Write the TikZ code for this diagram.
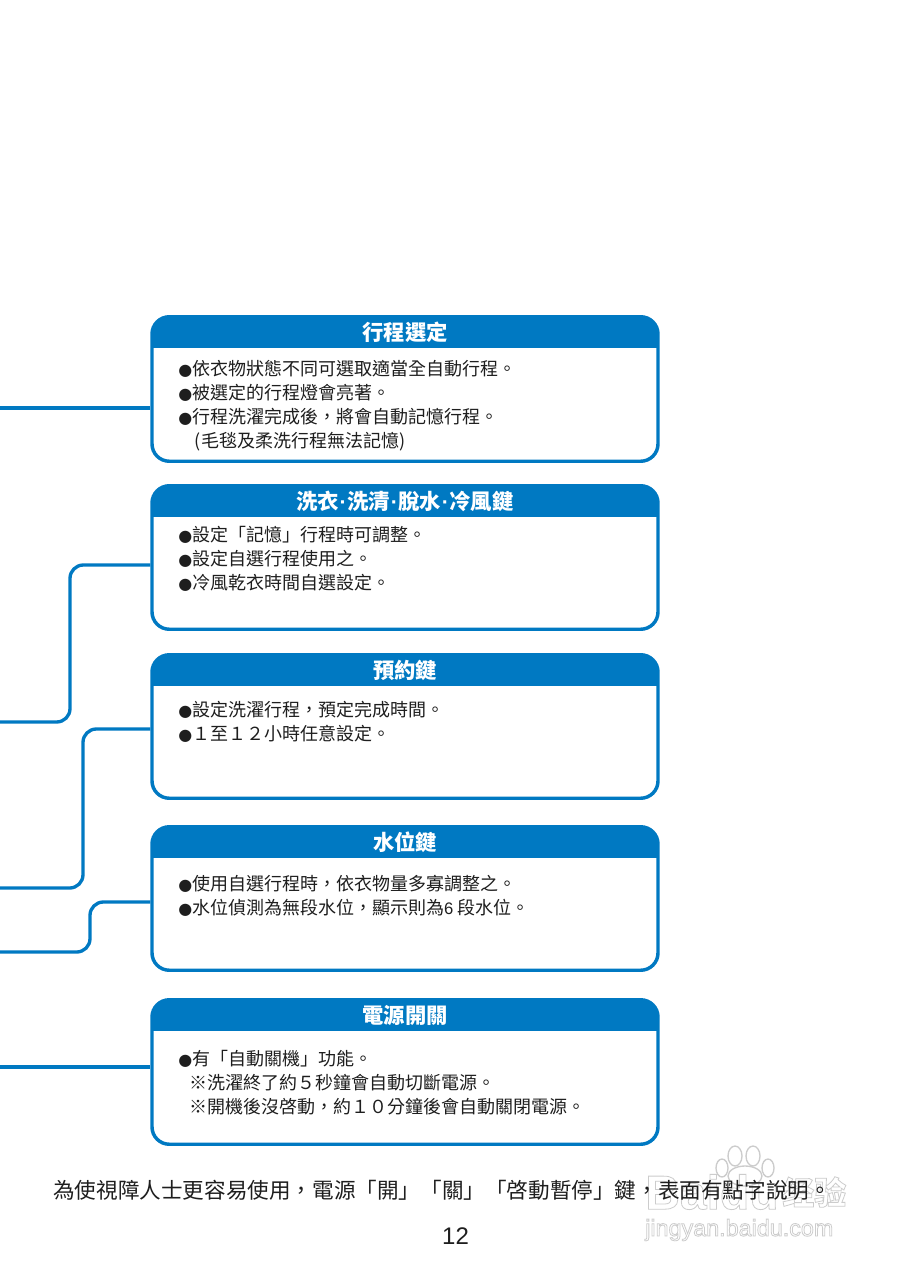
\documentclass[tikz,border=0pt]{standalone}
\usepackage{fontspec}
\setmainfont{Liberation Sans}
\newfontfamily\cjk{Noto Sans CJK TC}
\newfontfamily\cjksc{Noto Sans CJK SC}
\newfontfamily\dejavu{DejaVu Sans}
\definecolor{panelblue}{HTML}{0079C2}
\definecolor{inktext}{HTML}{1E1E1E}
\newcommand{\bul}{{\dejavu\fontsize{12}{18}\selectfont ●}}
\newcommand{\ind}{\hspace*{8.5pt}}
\newcommand{\dotsep}{{\rmfamily\bfseries\hspace{0.5pt}·\hspace{0.5pt}}}
\newcommand{\hollow}[1]{\special{pdf:code 1 Tr 0.6 w 0.8 G}#1\special{pdf:code 0 Tr 0 G}}
\tikzset{
  panelbox/.style={draw=panelblue,line width=2.6pt,rounded corners=13pt,inner sep=0pt,
    minimum width=379.5pt,fill=white,
    path picture={\fill[panelblue,sharp corners] (path picture bounding box.north west) rectangle
      ([yshift=-23.5pt]path picture bounding box.north east);}},
  paneltitle/.style={text=white,inner sep=0pt,font=\cjk\bfseries\fontsize{16}{18}\selectfont},
  panelbody/.style={anchor=north west,inner sep=0pt,align=left,text=inktext,
    font=\cjk\fontsize{13.5}{18}\selectfont},
  link/.style={draw=panelblue,line width=2.5pt,rounded corners=10pt},
  wmark/.style={inner sep=0pt},
}
\newcommand{\panel}[6]{%
  \node[panelbox,minimum height={(#3-#2-3.5)*0.75pt}] (#1) at (405,{(#2+#3)/2}) {};
  \node[paneltitle] (#1title) at (405,{#2+17}) {#4};
  \node[panelbody] (#1body) at (178,#5) {#6};
}
\begin{document}
\begin{tikzpicture}[x=0.75pt,y=-0.75pt]
\useasboundingbox[fill=white] (0,0) rectangle (905,1280);

\coordinate (f1) at (0,408);
\coordinate (f2) at (0,722);
\coordinate (f3) at (0,888);
\coordinate (f4) at (0,952);
\coordinate (f5) at (0,1067);
\coordinate (j2) at (70,565);
\coordinate (j3) at (83,729);
\coordinate (j4) at (90,902);

\panel{p1}{315}{463}{行程選定}{360}{\bul 依衣物狀態不同可選取適當全自動行程。\\
\bul 被選定的行程燈會亮著。\\
\bul 行程洗濯完成後，將會自動記憶行程。\\
\hspace*{12.5pt}(毛毯及柔洗行程無法記憶)}

\panel{p2}{484}{631}{洗衣\dotsep 洗清\dotsep 脫水\dotsep 冷風鍵}{526}{\bul 設定「記憶」行程時可調整。\\
\bul 設定自選行程使用之。\\
\bul 冷風乾衣時間自選設定。}

\panel{p3}{653}{800}{預約鍵}{701}{\bul 設定洗濯行程，預定完成時間。\\
\bul １至１２小時任意設定。}

\panel{p4}{825}{972}{水位鍵}{875}{\bul 使用自選行程時，依衣物量多寡調整之。\\
\bul 水位偵測為無段水位，顯示則為{\rmfamily\fontsize{12.5}{18}\selectfont 6} 段水位。}

\panel{p5}{998}{1146}{電源開關}{1050}{\bul 有「自動關機」功能。\\
\ind ※洗濯終了約５秒鐘會自動切斷電源。\\
\ind ※開機後沒啓動，約１０分鐘後會自動關閉電源。}

\draw[link] (f1) -- (f1 -| p1.west);
\draw[link] (f2) -- (f2 -| j2) -- (j2) -- (j2 -| p2.west);
\draw[link] (f3) -- (f3 -| j3) -- (j3) -- (j3 -| p3.west);
\draw[link] (f4) -- (f4 -| j4) -- (j4) -- (j4 -| p4.west);
\draw[link] (f5) -- (f5 -| p5.west);

% watermark
\node[wmark,anchor=west,font=\bfseries\fontsize{36}{36}\selectfont] (wm1) at (645,1192) {\hollow{Baidu}};
\node[wmark,anchor=west,font=\cjksc\bfseries\fontsize{24}{26}\selectfont] (wm2) at (782,1192) {\hollow{经验}};
\node[wmark,anchor=west,font=\fontsize{17.5}{20}\selectfont] (wm3) at (645,1230) {\hollow{jingyan.baidu.com}};
\begin{scope}[draw=black!20,line width=1pt]
\draw (745,1176) ellipse (17 and 10);
\draw (722,1168) ellipse (6 and 9);
\draw (735,1156) ellipse (7 and 10);
\draw (753,1156) ellipse (7 and 10);
\draw (768,1168) ellipse (6 and 9);
\end{scope}

\node[anchor=west,inner sep=0pt,text=inktext,font=\cjk\fontsize{16.2}{20}\selectfont] (note) at (53,1190)
  {為使視障人士更容易使用，電源「開」「關」「啓動暫停」鍵，表面有點字說明。};
\node[inner sep=0pt,text=inktext,font=\fontsize{18}{20}\selectfont] (pageno) at (455.5,1236) {12};
\end{tikzpicture}
\end{document}
